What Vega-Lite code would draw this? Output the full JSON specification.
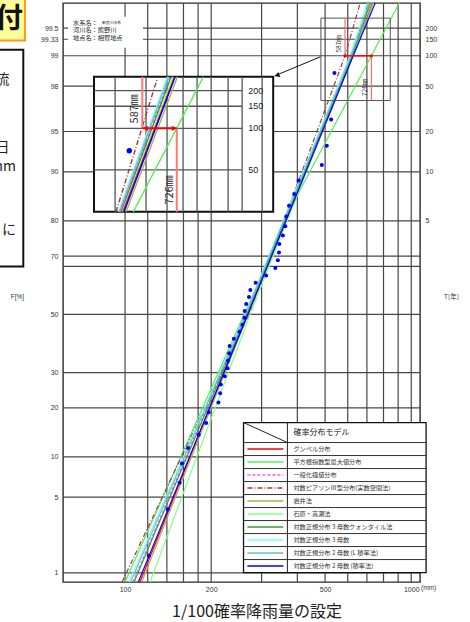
{
  "$schema": "https://vega.github.io/schema/vega-lite/v6.json",
  "width": 357,
  "height": 579,
  "autosize": {"type": "none"},
  "padding": {"left": 63, "top": 3, "right": 50, "bottom": 40},
  "background": "#ffffff",
  "config": {
    "view": {"stroke": "#2a2a2a", "strokeWidth": 1.4},
    "axis": {"labelFont": "Liberation Sans", "labelFontSize": 7, "labelColor": "#333333", "ticks": false, "domain": false, "grid": false, "labelOverlap": false, "labelFlush": false, "titleFont": "Noto Sans CJK JP", "titleFontWeight": "normal", "titleColor": "#333333"},
    "text": {"font": "Noto Sans CJK JP"}
  },
  "resolve": {"axis": {"y": "independent"}},
  "layer": [
    {
      "data": {"values": [{"z": 2.5758}, {"z": 2.4747}, {"z": 2.3263}, {"z": 2.0537}, {"z": 1.6449}, {"z": 1.2816}, {"z": 0.8416}, {"z": 0.5244}, {"z": 0.4307}, {"z": 0}, {"z": -0.5244}, {"z": -0.8416}, {"z": -1.2816}, {"z": -1.6449}, {"z": -2.3263}]},
      "mark": {"type": "rule", "color": "#474747", "strokeWidth": 1.2},
      "encoding": {
        "y": {"field": "z", "type": "quantitative", "scale": {"domain": [-2.408, 2.801], "nice": false, "zero": false},
          "axis": {"orient": "right", "values": [2.5758, 2.4747, 2.3263, 2.0537, 1.6449, 1.2816, 0.8416], "labelExpr": "datum.value > 2.5 ? '200' : datum.value > 2.4 ? '150' : datum.value > 2.2 ? '100' : datum.value > 2 ? '50' : datum.value > 1.5 ? '20' : datum.value > 1 ? '10' : '5'", "labelAlign": "left", "labelPadding": 5, "title": "T[年]", "titleAngle": 0, "titleX": 31, "titleY": 293, "titleFontSize": 6.5, "titleAlign": "center", "titleBaseline": "middle"}}
      }
    },
    {
      "layer": [
        {
          "data": {"values": [{"mm": 100}, {"mm": 120}, {"mm": 140}, {"mm": 160}, {"mm": 180}, {"mm": 200}, {"mm": 300}, {"mm": 400}, {"mm": 500}, {"mm": 600}, {"mm": 700}, {"mm": 800}, {"mm": 900}, {"mm": 1000}]},
          "mark": {"type": "rule", "color": "#474747", "strokeWidth": 1.2},
          "encoding": {
            "x": {"field": "mm", "type": "quantitative", "scale": {"type": "log", "domain": [60.7, 1073], "nice": false},
              "axis": {"values": [100, 200, 500, 1000], "labelExpr": "format(datum.value, 'd')", "labelPadding": 3, "title": "1/100確率降雨量の設定", "titleFontSize": 16, "titleX": 193.5, "titleY": 34, "titleAlign": "center", "titleBaseline": "alphabetic", "titleColor": "#222222"}}
          }
        },
        {
          "data": {"values": [{"x1": 63.2, "x2": 115.6, "z1": 2.3977, "z2": 2.6766}]},
          "mark": {"type": "rect", "fill": "#ffffff"},
          "encoding": {
            "x": {"field": "x1", "type": "quantitative"}, "x2": {"field": "x2"},
            "y": {"field": "z1", "type": "quantitative"}, "y2": {"field": "z2"}
          }
        },
        {
          "data": {"values": [
            {"m": "グンベル分布", "mm": 112.8, "z": -2.408}, {"m": "グンベル分布", "mm": 267.1, "z": 0}, {"m": "グンベル分布", "mm": 621.8, "z": 2.326}, {"m": "グンベル分布", "mm": 730.5, "z": 2.801},
            {"m": "平方根指数型最大値分布", "mm": 100.0, "z": -2.408}, {"m": "平方根指数型最大値分布", "mm": 260.7, "z": 0}, {"m": "平方根指数型最大値分布", "mm": 409.2, "z": 1.12}, {"m": "平方根指数型最大値分布", "mm": 726, "z": 2.326}, {"m": "平方根指数型最大値分布", "mm": 907.8, "z": 2.801},
            {"m": "一般化極値分布", "mm": 106.6, "z": -2.408}, {"m": "一般化極値分布", "mm": 264.9, "z": 0}, {"m": "一般化極値分布", "mm": 611.8, "z": 2.326}, {"m": "一般化極値分布", "mm": 713, "z": 2.801},
            {"m": "対数ピアソンⅢ型分布(実数空間法)", "mm": 97.6, "z": -2.408}, {"m": "対数ピアソンⅢ型分布(実数空間法)", "mm": 271.4, "z": 0}, {"m": "対数ピアソンⅢ型分布(実数空間法)", "mm": 587, "z": 2.326}, {"m": "対数ピアソンⅢ型分布(実数空間法)", "mm": 663, "z": 2.801},
            {"m": "岩井法", "mm": 114.4, "z": -2.408}, {"m": "岩井法", "mm": 269.2, "z": 0}, {"m": "岩井法", "mm": 626.8, "z": 2.326}, {"m": "岩井法", "mm": 736.4, "z": 2.801},
            {"m": "石原・高瀬法", "mm": 122.3, "z": -2.408}, {"m": "石原・高瀬法", "mm": 273.6, "z": 0}, {"m": "石原・高瀬法", "mm": 621.8, "z": 2.326}, {"m": "石原・高瀬法", "mm": 724.6, "z": 2.801},
            {"m": "対数正規分布 3 母数クォンタイル法", "mm": 107.5, "z": -2.408}, {"m": "対数正規分布 3 母数クォンタイル法", "mm": 267.1, "z": 0}, {"m": "対数正規分布 3 母数クォンタイル法", "mm": 621.8, "z": 2.326}, {"m": "対数正規分布 3 母数クォンタイル法", "mm": 719, "z": 2.801},
            {"m": "対数正規分布 3 母数", "mm": 103.3, "z": -2.408}, {"m": "対数正規分布 3 母数", "mm": 262.8, "z": 0}, {"m": "対数正規分布 3 母数", "mm": 611.8, "z": 2.326}, {"m": "対数正規分布 3 母数", "mm": 701.7, "z": 2.801},
            {"m": "対数正規分布 2 母数 (L 積率法)", "mm": 104.7, "z": -2.408}, {"m": "対数正規分布 2 母数 (L 積率法)", "mm": 263.8, "z": 0}, {"m": "対数正規分布 2 母数 (L 積率法)", "mm": 616.8, "z": 2.326}, {"m": "対数正規分布 2 母数 (L 積率法)", "mm": 713, "z": 2.801},
            {"m": "対数正規分布 2 母数 (積率法)", "mm": 111.3, "z": -2.408}, {"m": "対数正規分布 2 母数 (積率法)", "mm": 268.6, "z": 0}, {"m": "対数正規分布 2 母数 (積率法)", "mm": 626.8, "z": 2.326}, {"m": "対数正規分布 2 母数 (積率法)", "mm": 748.3, "z": 2.801}
          ]},
          "mark": {"type": "line", "strokeWidth": 1.2},
          "encoding": {
            "x": {"field": "mm", "type": "quantitative"},
            "y": {"field": "z", "type": "quantitative"},
            "order": {"field": "z", "type": "quantitative"},
            "color": {"field": "m", "type": "nominal", "legend": null, "scale": {"domain": ["グンベル分布", "平方根指数型最大値分布", "一般化極値分布", "対数ピアソンⅢ型分布(実数空間法)", "岩井法", "石原・高瀬法", "対数正規分布 3 母数クォンタイル法", "対数正規分布 3 母数", "対数正規分布 2 母数 (L 積率法)", "対数正規分布 2 母数 (積率法)"], "range": ["#ff0000", "#55ee55", "#ff55ff", "#a83838", "#b4ac50", "#88ff88", "#3a9a3a", "#77ffff", "#66c4c4", "#0000ff"]}},
            "strokeDash": {"field": "m", "type": "nominal", "legend": null, "scale": {"domain": ["グンベル分布", "平方根指数型最大値分布", "一般化極値分布", "対数ピアソンⅢ型分布(実数空間法)", "岩井法", "石原・高瀬法", "対数正規分布 3 母数クォンタイル法", "対数正規分布 3 母数", "対数正規分布 2 母数 (L 積率法)", "対数正規分布 2 母数 (積率法)"], "range": [[1, 0], [1, 0], [3, 2], [5, 2, 1, 2], [1, 0], [1, 0], [1, 0], [1, 0], [1, 0], [1, 0]]}}
          }
        },
        {
          "data": {"values": [
            {"mm": 539, "z": 2.172}, {"mm": 525, "z": 1.753}, {"mm": 507, "z": 1.516}, {"mm": 487, "z": 1.343}, {"mm": 404, "z": 1.203}, {"mm": 390, "z": 1.083}, {"mm": 374, "z": 0.977}, {"mm": 366, "z": 0.881}, {"mm": 363, "z": 0.793}, {"mm": 356, "z": 0.71},
            {"mm": 346, "z": 0.632}, {"mm": 345, "z": 0.557}, {"mm": 342, "z": 0.486}, {"mm": 335, "z": 0.417}, {"mm": 311, "z": 0.35}, {"mm": 286, "z": 0.284}, {"mm": 274, "z": 0.22}, {"mm": 271, "z": 0.156}, {"mm": 265, "z": 0.094}, {"mm": 262, "z": 0.031},
            {"mm": 261, "z": -0.031}, {"mm": 257, "z": -0.094}, {"mm": 251, "z": -0.156}, {"mm": 240, "z": -0.22}, {"mm": 232, "z": -0.284}, {"mm": 231, "z": -0.35}, {"mm": 229, "z": -0.417}, {"mm": 228, "z": -0.486}, {"mm": 223, "z": -0.557}, {"mm": 216, "z": -0.632},
            {"mm": 215, "z": -0.71}, {"mm": 212, "z": -0.793}, {"mm": 196, "z": -0.881}, {"mm": 192, "z": -0.977}, {"mm": 181, "z": -1.083}, {"mm": 166, "z": -1.203}, {"mm": 158, "z": -1.343}, {"mm": 155, "z": -1.516}, {"mm": 141, "z": -1.753}, {"mm": 121, "z": -2.172}
          ]},
          "mark": {"type": "point", "filled": true, "color": "#0000ff", "size": 16, "opacity": 1},
          "encoding": {
            "x": {"field": "mm", "type": "quantitative"},
            "y": {"field": "z", "type": "quantitative",
              "axis": {"orient": "left", "values": [2.5758, 2.4747, 2.3263, 2.0537, 1.6449, 1.2816, 0.8416, 0.5244, 0, -0.5244, -0.8416, -1.2816, -1.6449, -2.3263], "labelExpr": "datum.value > 2.5 ? '99.5' : datum.value > 2.4 ? '99.33' : datum.value > 2.2 ? '99' : datum.value > 2 ? '98' : datum.value > 1.5 ? '95' : datum.value > 1.1 ? '90' : datum.value > 0.7 ? '80' : datum.value > 0.3 ? '70' : datum.value > -0.1 ? '50' : datum.value > -0.6 ? '30' : datum.value > -1 ? '20' : datum.value > -1.5 ? '10' : datum.value > -2 ? '5' : '1'", "labelPadding": 5, "title": "F[%]", "titleAngle": 0, "titleX": -46, "titleY": 293, "titleFontSize": 6.5, "titleFont": "Liberation Sans", "titleAlign": "center", "titleBaseline": "middle"}}
          }
        },
        {
          "data": {"values": [{"x1": 483.4, "x2": 844.6, "z1": 1.9235, "z2": 2.665}]},
          "mark": {"type": "rect", "fillOpacity": 0, "stroke": "#555555", "strokeWidth": 1},
          "encoding": {"x": {"field": "x1", "type": "quantitative"}, "x2": {"field": "x2"}, "y": {"field": "z1", "type": "quantitative"}, "y2": {"field": "z2"}}
        },
        {
          "data": {"values": [{"x1": 587, "z1": 2.326, "z2": 2.665}, {"x1": 726, "z1": 1.9235, "z2": 2.326}]},
          "mark": {"type": "rule", "color": "#ff6b6b", "strokeWidth": 1.2},
          "encoding": {"x": {"field": "x1", "type": "quantitative"}, "y": {"field": "z1", "type": "quantitative"}, "y2": {"field": "z2"}}
        },
        {
          "data": {"values": [{"x1": 587, "x2": 726, "z1": 2.326}]},
          "mark": {"type": "rule", "color": "#ff0000", "strokeWidth": 1.5},
          "encoding": {"x": {"field": "x1", "type": "quantitative"}, "x2": {"field": "x2"}, "y": {"field": "z1", "type": "quantitative"}}
        },
        {
          "data": {"values": [{"mm": 587, "z": 2.326}, {"mm": 726, "z": 2.326}]},
          "mark": {"type": "point", "filled": true, "color": "#ff0000", "size": 10, "opacity": 1},
          "encoding": {"x": {"field": "mm", "type": "quantitative"}, "y": {"field": "z", "type": "quantitative"}}
        },
        {
          "data": {"values": [{"t": "587㎜", "mm": 557.3, "z": 2.4336}, {"t": "726㎜", "mm": 690.5, "z": 2.0423}]},
          "mark": {"type": "text", "angle": 270, "fontSize": 6.5, "color": "#333333", "align": "center", "baseline": "middle"},
          "encoding": {"x": {"field": "mm", "type": "quantitative"}, "y": {"field": "z", "type": "quantitative"}, "text": {"field": "t"}}
        },
        {
          "data": {"values": [{"x1": 77.9, "x2": 329.3, "z1": 0.9222, "z2": 2.1368}]},
          "mark": {"type": "rect", "fill": "#ffffff", "stroke": "#111111", "strokeWidth": 2},
          "encoding": {"x": {"field": "x1", "type": "quantitative"}, "x2": {"field": "x2"}, "y": {"field": "z1", "type": "quantitative"}, "y2": {"field": "z2"}}
        },
        {
          "data": {"values": [{"x1": 77.9, "x2": 256.5, "z1": 2.0135}, {"x1": 77.9, "x2": 256.5, "z1": 1.8723}, {"x1": 77.9, "x2": 256.5, "z1": 1.6734}, {"x1": 77.9, "x2": 256.5, "z1": 1.3001}]},
          "mark": {"type": "rule", "color": "#555555", "strokeWidth": 1.3},
          "encoding": {"x": {"field": "x1", "type": "quantitative"}, "x2": {"field": "x2"}, "y": {"field": "z1", "type": "quantitative"}}
        },
        {
          "data": {"values": [{"x1": 92.3}, {"x1": 118.4}, {"x1": 140.2}, {"x1": 159.5}, {"x1": 178.5}, {"x1": 199.9}, {"x1": 229.2}, {"x1": 256.5}, {"x1": 301.3}]},
          "mark": {"type": "rule", "color": "#555555", "strokeWidth": 1.3},
          "encoding": {"x": {"field": "x1", "type": "quantitative"}, "y": {"datum": 0.9222, "type": "quantitative"}, "y2": {"datum": 2.1368}}
        },
        {
          "data": {"values": [
            {"m": "対数ピアソンⅢ型分布(実数空間法)", "x1": 93.0, "x2": 130.1},
            {"m": "対数正規分布 3 母数", "x1": 94.75, "x2": 140.6},
            {"m": "対数正規分布 2 母数 (L 積率法)", "x1": 95.67, "x2": 141.9},
            {"m": "一般化極値分布", "x1": 96.05, "x2": 143.7},
            {"m": "対数正規分布 3 母数クォンタイル法", "x1": 96.83, "x2": 144.8},
            {"m": "石原・高瀬法", "x1": 98.0, "x2": 147.2},
            {"m": "グンベル分布", "x1": 98.4, "x2": 149.0},
            {"m": "岩井法", "x1": 100.8, "x2": 152.4},
            {"m": "対数正規分布 2 母数 (積率法)", "x1": 99.2, "x2": 149.6},
            {"m": "平方根指数型最大値分布", "x1": 106.9, "x2": 187.8}
          ]},
          "mark": {"type": "rule", "strokeWidth": 1.4},
          "encoding": {
            "x": {"field": "x1", "type": "quantitative"}, "x2": {"field": "x2"},
            "y": {"datum": 0.9222, "type": "quantitative"}, "y2": {"datum": 2.1368},
            "color": {"field": "m", "type": "nominal", "legend": null},
            "strokeDash": {"field": "m", "type": "nominal", "legend": null}
          }
        },
        {
          "data": {"values": [{"mm": 103.5, "z": 1.471}]},
          "mark": {"type": "point", "filled": true, "color": "#0000ff", "size": 30, "opacity": 1},
          "encoding": {"x": {"field": "mm", "type": "quantitative"}, "y": {"field": "z", "type": "quantitative"}}
        },
        {
          "data": {"values": [{"x1": 114.9, "z1": 1.6734, "z2": 2.1368}, {"x1": 151.6, "z1": 0.9222, "z2": 1.6734}]},
          "mark": {"type": "rule", "color": "#ff7777", "strokeWidth": 2},
          "encoding": {"x": {"field": "x1", "type": "quantitative"}, "y": {"field": "z1", "type": "quantitative"}, "y2": {"field": "z2"}}
        },
        {
          "data": {"values": [{"x1": 114.9, "x2": 151.6, "z1": 1.6734}]},
          "mark": {"type": "rule", "color": "#ff0000", "strokeWidth": 2},
          "encoding": {"x": {"field": "x1", "type": "quantitative"}, "x2": {"field": "x2"}, "y": {"field": "z1", "type": "quantitative"}}
        },
        {
          "data": {"values": [{"mm": 117.9, "z": 1.6734, "s": "triangle-left"}, {"mm": 148.4, "z": 1.6734, "s": "triangle-right"}]},
          "mark": {"type": "point", "filled": true, "color": "#ff0000", "size": 28, "opacity": 1},
          "encoding": {"x": {"field": "mm", "type": "quantitative"}, "y": {"field": "z", "type": "quantitative"}, "shape": {"field": "s", "type": "nominal", "scale": null, "legend": null}}
        },
        {
          "data": {"values": [{"t": "587㎜", "mm": 108.4, "z": 1.849}, {"t": "726㎜", "mm": 143.1, "z": 1.1201}]},
          "mark": {"type": "text", "angle": 270, "fontSize": 11, "color": "#222222", "align": "center", "baseline": "middle"},
          "encoding": {"x": {"field": "mm", "type": "quantitative"}, "y": {"field": "z", "type": "quantitative"}, "text": {"field": "t"}}
        },
        {
          "data": {"values": [{"t": "200", "z": 2.0135}, {"t": "150", "z": 1.8723}, {"t": "100", "z": 1.6734}, {"t": "50", "z": 1.3001}]},
          "mark": {"type": "text", "font": "Liberation Sans", "fontSize": 9, "color": "#222222", "align": "left", "baseline": "middle"},
          "encoding": {"x": {"datum": 269.2, "type": "quantitative"}, "y": {"field": "z", "type": "quantitative"}, "text": {"field": "t"}}
        },
        {
          "data": {"values": [{"x1": 481.1, "x2": 333.5, "z1": 2.3167, "z2": 2.1458}]},
          "mark": {"type": "rule", "color": "#111111", "strokeWidth": 1},
          "encoding": {"x": {"field": "x1", "type": "quantitative"}, "x2": {"field": "x2"}, "y": {"field": "z1", "type": "quantitative"}, "y2": {"field": "z2"}}
        },
        {
          "data": {"values": [{"mm": 339.9, "z": 2.15}]},
          "mark": {"type": "point", "filled": true, "color": "#111111", "shape": "triangle-right", "angle": 156, "size": 30, "opacity": 1},
          "encoding": {"x": {"field": "mm", "type": "quantitative"}, "y": {"field": "z", "type": "quantitative"}}
        },
        {
          "data": {"values": [{"x1": 259.4, "x2": 1127, "z1": -2.323, "z2": -0.9735}]},
          "mark": {"type": "rect", "fill": "#ffffff", "stroke": "#111111", "strokeWidth": 1.3},
          "encoding": {"x": {"field": "x1", "type": "quantitative"}, "x2": {"field": "x2"}, "y": {"field": "z1", "type": "quantitative"}, "y2": {"field": "z2"}}
        },
        {
          "data": {"values": [{"z": -1.1534}, {"z": -1.2703}, {"z": -1.3873}, {"z": -1.5043}, {"z": -1.6212}, {"z": -1.7382}, {"z": -1.8551}, {"z": -1.9721}, {"z": -2.0891}, {"z": -2.206}]},
          "mark": {"type": "rule", "color": "#333333", "strokeWidth": 1},
          "encoding": {"x": {"datum": 259.4, "type": "quantitative"}, "x2": {"datum": 1127}, "y": {"field": "z", "type": "quantitative"}}
        },
        {
          "data": {"values": [{"x1": 369.2, "x2": 369.2, "z1": -2.323, "z2": -0.9735}, {"x1": 259.4, "x2": 369.2, "z1": -0.9735, "z2": -1.1534}]},
          "mark": {"type": "rule", "color": "#222222", "strokeWidth": 1},
          "encoding": {"x": {"field": "x1", "type": "quantitative"}, "x2": {"field": "x2"}, "y": {"field": "z1", "type": "quantitative"}, "y2": {"field": "z2"}}
        },
        {
          "data": {"values": [
            {"m": "グンベル分布", "z": -1.2119}, {"m": "平方根指数型最大値分布", "z": -1.3288}, {"m": "一般化極値分布", "z": -1.4458}, {"m": "対数ピアソンⅢ型分布(実数空間法)", "z": -1.5628}, {"m": "岩井法", "z": -1.6797},
            {"m": "石原・高瀬法", "z": -1.7967}, {"m": "対数正規分布 3 母数クォンタイル法", "z": -1.9136}, {"m": "対数正規分布 3 母数", "z": -2.0306}, {"m": "対数正規分布 2 母数 (L 積率法)", "z": -2.1475}, {"m": "対数正規分布 2 母数 (積率法)", "z": -2.2645}
          ]},
          "layer": [
            {
              "mark": {"type": "rule", "strokeWidth": 1.6},
              "encoding": {
                "x": {"datum": 267.6, "type": "quantitative"}, "x2": {"datum": 357.4},
                "y": {"field": "z", "type": "quantitative"},
                "color": {"field": "m", "type": "nominal", "legend": null},
                "strokeDash": {"field": "m", "type": "nominal", "legend": null}
              }
            },
            {
              "mark": {"type": "text", "fontSize": 6.2, "color": "#333333", "align": "left", "baseline": "middle"},
              "encoding": {"x": {"datum": 387.5, "type": "quantitative"}, "y": {"field": "z", "type": "quantitative"}, "text": {"field": "m"}}
            }
          ]
        },
        {
          "data": {"values": [{"t": "確率分布モデル", "z": -1.0634}]},
          "mark": {"type": "text", "fontSize": 8, "color": "#222222", "align": "left", "baseline": "middle"},
          "encoding": {"x": {"datum": 387.5, "type": "quantitative"}, "y": {"field": "z", "type": "quantitative"}, "text": {"field": "t"}}
        },
        {
          "data": {"values": [{"t": "水系名：", "z": 2.6226}, {"t": "河川名：熊野川", "z": 2.5596}, {"t": "地点名：相賀地点", "z": 2.4876}]},
          "mark": {"type": "text", "fontSize": 6.2, "color": "#222222", "align": "left", "baseline": "middle"},
          "encoding": {"x": {"datum": 65.8, "type": "quantitative"}, "y": {"field": "z", "type": "quantitative"}, "text": {"field": "t"}}
        },
        {
          "data": {"values": [{"t": "新宮川水系", "z": 2.6226}]},
          "mark": {"type": "text", "fontSize": 3.8, "color": "#222222", "align": "left", "baseline": "middle"},
          "encoding": {"x": {"datum": 83.1, "type": "quantitative"}, "y": {"field": "z", "type": "quantitative"}, "text": {"field": "t"}}
        },
        {
          "data": {"values": [{"t": "(mm)", "z": -2.4634}]},
          "mark": {"type": "text", "font": "Liberation Sans", "fontSize": 6.5, "color": "#333333", "align": "left", "baseline": "middle"},
          "encoding": {"x": {"datum": 1082, "type": "quantitative"}, "y": {"field": "z", "type": "quantitative"}, "text": {"field": "t"}}
        },
        {
          "data": {"values": [{"x1": 35.1, "x2": 44.7, "z1": 2.4634, "z2": 2.8727}]},
          "mark": {"type": "rect", "fill": "#ffff99", "stroke": "#ff9a1a", "strokeWidth": 2},
          "encoding": {"x": {"field": "x1", "type": "quantitative"}, "x2": {"field": "x2"}, "y": {"field": "z1", "type": "quantitative"}, "y2": {"field": "z2"}}
        },
        {
          "data": {"values": [{"t": "付", "z": 2.6496}]},
          "mark": {"type": "text", "fontSize": 28, "fontWeight": "bold", "color": "#111111", "align": "right", "baseline": "middle"},
          "encoding": {"x": {"datum": 43.97, "type": "quantitative"}, "y": {"field": "z", "type": "quantitative"}, "text": {"field": "t"}}
        },
        {
          "data": {"values": [{"x1": 35.7, "x2": 44.1, "z1": 0.43, "z2": 2.3797}]},
          "mark": {"type": "rect", "fill": "#ffffff", "stroke": "#111111", "strokeWidth": 2},
          "encoding": {"x": {"field": "x1", "type": "quantitative"}, "x2": {"field": "x2"}, "y": {"field": "z1", "type": "quantitative"}, "y2": {"field": "z2"}}
        },
        {
          "data": {"values": [{"t": "・検討対象流", "mm": 39.47, "z": 2.1098}, {"t": "・継続時間2日", "mm": 39.47, "z": 1.498}, {"t": "・計画雨量 587mm", "mm": 41.6, "z": 1.327}, {"t": "・採用することに", "mm": 41.6, "z": 0.7602}]},
          "mark": {"type": "text", "fontSize": 14, "color": "#222222", "align": "right", "baseline": "middle"},
          "encoding": {"x": {"field": "mm", "type": "quantitative"}, "y": {"field": "z", "type": "quantitative"}, "text": {"field": "t"}}
        }
      ]
    }
  ]
}
